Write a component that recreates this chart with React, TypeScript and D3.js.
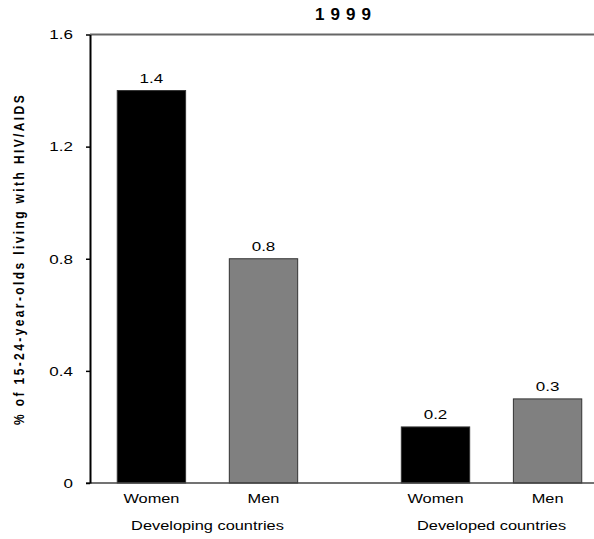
import React, { useEffect, useRef } from "react";
import * as d3 from "d3";

const groups = ["Developing countries", "Developed countries"];
const sexes = ["Women", "Men"];
const women = [1.4, 0.2];
const men = [0.8, 0.3];
const yTicks = [0, 0.4, 0.8, 1.2, 1.6];
const title = "1999";
const yTitle = "% of 15-24-year-olds living with HIV/AIDS";

const colors: Record<string, string> = { Women: "#000000", Men: "#808080" };

export default function App() {
  const ref = useRef<SVGSVGElement | null>(null);

  useEffect(() => {
    const width = 594;
    const height = 539;
    const left = 90;
    const font = "Liberation Sans, Arial, sans-serif";
    const sx = 1.26; // the original's text looks stretched sideways

    const svg = d3.select(ref.current);
    svg.selectAll("*").remove();
    svg.attr("width", width).attr("height", height).attr("viewBox", `0 0 ${width} ${height}`);

    const rows = groups.map((g, i) => ({ group: g, values: [{ sex: "Women", v: women[i] }, { sex: "Men", v: men[i] }] }));

    const x0 = d3.scaleBand<string>().domain(groups).range([left, 609]).paddingInner(0.211).paddingOuter(0.019);
    const x1 = d3.scaleBand<string>().domain(sexes).range([0, x0.bandwidth()]).paddingInner(0.39).paddingOuter(0.195);
    const y = d3.scaleLinear().domain([0, 1.6]).range([483, 34.5]);

    // top frame line
    svg.append("line").attr("x1", left).attr("x2", width).attr("y1", y(1.6)).attr("y2", y(1.6))
      .attr("stroke", "#666").attr("stroke-width", 2);

    // bars
    const g = svg.selectAll("g.grp").data(rows).enter().append("g")
      .attr("transform", d => `translate(${x0(d.group)},0)`);

    g.selectAll("rect").data(d => d.values).enter().append("rect")
      .attr("x", d => x1(d.sex)!)
      .attr("y", d => y(d.v))
      .attr("width", x1.bandwidth())
      .attr("height", d => y(0) - y(d.v))
      .attr("fill", d => colors[d.sex])
      .attr("stroke", "#333").attr("stroke-width", 1);

    g.selectAll("text.val").data(d => d.values).enter().append("text")
      .attr("transform", d => `translate(${x1(d.sex)! + x1.bandwidth() / 2},${y(d.v) - 8}) scale(${sx},1)`)
      .attr("text-anchor", "middle").attr("font-family", font).attr("font-size", 13.5)
      .text(d => d3.format(".1f")(d.v));

    g.selectAll("text.cat").data(d => d.values).enter().append("text")
      .attr("transform", d => `translate(${x1(d.sex)! + x1.bandwidth() / 2},503) scale(${sx},1)`)
      .attr("text-anchor", "middle").attr("font-family", font).attr("font-size", 13)
      .text(d => d.sex);

    g.append("text")
      .attr("transform", `translate(${x0.bandwidth() / 2},530) scale(${sx},1)`)
      .attr("text-anchor", "middle").attr("font-family", font).attr("font-size", 13)
      .text(d => d.group);

    // baseline
    svg.append("line").attr("x1", left - 4).attr("x2", width).attr("y1", y(0)).attr("y2", y(0))
      .attr("stroke", "#444").attr("stroke-width", 1.5);

    // y axis
    const ya = svg.append("g").attr("transform", `translate(${left},0)`)
      .call(d3.axisLeft(y).tickValues(yTicks).tickSize(4).tickSizeOuter(0).tickPadding(13)
        .tickFormat(d => (+d === 0 ? "0" : d3.format(".1f")(+d))));
    ya.select(".domain").attr("stroke", "#000").attr("stroke-width", 2);
    ya.selectAll(".tick line").attr("stroke", "#000").attr("stroke-width", 1.5);
    ya.selectAll(".tick text").attr("font-family", font).attr("font-size", 13.5).attr("fill", "#000")
      .attr("x", -17 / sx).attr("transform", `scale(${sx},1)`);

    // titles
    svg.append("text").attr("x", 343 + 3).attr("y", 20).attr("text-anchor", "middle")
      .attr("font-family", font).attr("font-size", 17).attr("font-weight", "bold")
      .attr("letter-spacing", 6).text(title);

    svg.append("text").attr("transform", `translate(24,259) scale(${sx},1) rotate(-90)`)
      .attr("text-anchor", "middle").attr("font-family", font).attr("font-size", 12)
      .attr("font-weight", "bold").attr("letter-spacing", 2.4).text(yTitle);
  }, []);

  return (
    <div style={{ position: "absolute", left: 0, top: 0, width: 594, height: 539, background: "#fff" }}>
      <svg ref={ref} />
    </div>
  );
}
